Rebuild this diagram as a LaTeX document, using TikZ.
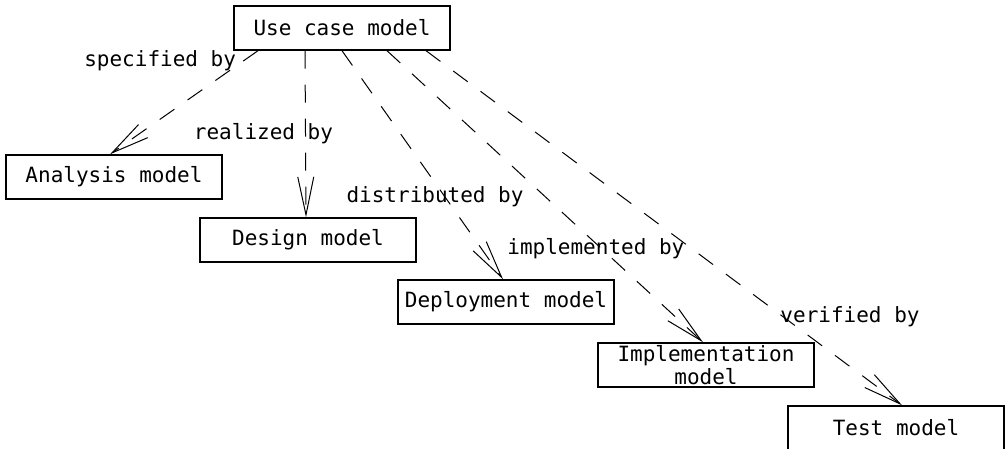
\documentclass[tikz,border=0pt]{standalone}
\usepackage{fontspec}
\setmainfont{DejaVu Sans Mono}
\usetikzlibrary{arrows.meta,positioning}
\tikzset{
model/.style={draw,line width=.7pt,minimum width=108pt,minimum height=22pt,align=center,inner sep=1pt},
trace/.style={-{Straight Barb[length=19pt,width=8pt]},line width=.5pt,dash pattern=on 9pt off 8pt}
}
\begin{document}
\begin{tikzpicture}[x=.5pt,y=-.5pt,font=\fontsize{10.5}{10}\selectfont]
\useasboundingbox (0,0) rectangle (1005,449);
\node[model](uc) at (342,28){Use case model};
\node[model](an) at (114,177){Analysis model};
\node[model](de) at (308,240){Design model};
\node[model](dp) at (506,302){Deployment model};
\node[model](im) at (706,365){Implementation\\model};
\node[model](te) at (896,428){Test model};
\draw[trace]([xshift=-42pt]uc.south)--node[pos=.1,anchor=east]{specified by}([xshift=-2pt]an.north);
\draw[trace]([xshift=-18.5pt]uc.south)--node[pos=.5,xshift=-21pt]{realized by}([xshift=-1pt]de.north);
\draw[trace](uc.south)--node[pos=.64,xshift=-5pt]{distributed by}([xshift=-1.5pt]dp.north);
\draw[trace]([xshift=22.5pt]uc.south)--node[pos=.68,xshift=-3pt]{implemented by}([xshift=-1.5pt]im.north);
\draw[trace]([xshift=42pt]uc.south)--node[pos=.75,xshift=33.5pt]{verified by}([xshift=3pt]te.north);
\end{tikzpicture}
\end{document}
